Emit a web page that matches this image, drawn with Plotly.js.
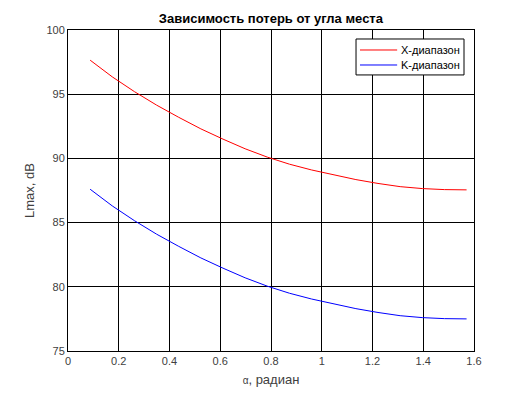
<!DOCTYPE html>
<html>
<head>
<meta charset="utf-8">
<script src="https://cdn.plot.ly/plotly-3.0.1.min.js"></script>
<style>html,body{margin:0;padding:0;background:#fff;}#chart{width:524px;height:393px;}</style>
</head>
<body>
<div id="chart"></div>
<script>
const alphaRad = [0.0873, 0.1745, 0.2618, 0.3491, 0.4363, 0.5236, 0.6109, 0.6981, 0.7854, 0.8727, 0.9599, 1.0472, 1.1345, 1.2217, 1.3090, 1.3963, 1.4835, 1.5708];
const lossX = [97.65, 96.35, 95.2, 94.15, 93.2, 92.3, 91.5, 90.75, 90.1, 89.55, 89.1, 88.7, 88.35, 88.05, 87.8, 87.65, 87.57, 87.55];
const lossK = [87.6, 86.3, 85.15, 84.1, 83.15, 82.25, 81.45, 80.7, 80.05, 79.5, 79.05, 78.65, 78.3, 78.0, 77.75, 77.6, 77.52, 77.5];
const seriesNames = ["X-диапазон", "K-диапазон"];
const seriesColors = ["#ff0000", "#0000ff"];
const xTicks = [0, 0.2, 0.4, 0.6, 0.8, 1, 1.2, 1.4, 1.6];
const xTickText = ["0", "0.2", "0.4", "0.6", "0.8", "1", "1.2", "1.4", "1.6"];
const yTicks = [75, 80, 85, 90, 95, 100];

const font = "Liberation Sans, Arial, sans-serif";
const traces = [
  {x: alphaRad, y: lossX, name: seriesNames[0], mode: "lines", line: {color: seriesColors[0], width: 1}},
  {x: alphaRad, y: lossK, name: seriesNames[1], mode: "lines", line: {color: seriesColors[1], width: 1}}
];
const axisCommon = {
  showgrid: true, gridcolor: "#000", gridwidth: 1,
  showline: true, linecolor: "#000", linewidth: 1, mirror: true,
  zeroline: false, ticks: "", tickfont: {family: font, size: 11, color: "#404040"}
};

// custom MATLAB-style legend box (paper coordinates)
const legBox = {x0: 0.7094, x1: 0.9754, y0: 0.860, y1: 0.972};
const legRows = [0.9377, 0.891];
const shapes = [
  {type: "rect", xref: "paper", yref: "paper", x0: legBox.x0, x1: legBox.x1, y0: legBox.y0, y1: legBox.y1,
   fillcolor: "#fff", line: {color: "#000", width: 1}, layer: "above"}
];
const annotations = [];
seriesNames.forEach((nm, i) => {
  shapes.push({type: "line", xref: "paper", yref: "paper", x0: 0.7192, x1: 0.8107, y0: legRows[i], y1: legRows[i],
    line: {color: seriesColors[i], width: 1}, layer: "above"});
  annotations.push({xref: "paper", yref: "paper", x: 0.8156, y: legRows[i], xanchor: "left", yanchor: "middle",
    text: nm, showarrow: false, font: {family: font, size: 11, color: "#000"}});
});

const layout = {
  width: 524, height: 393,
  margin: {l: 68, r: 50, t: 30, b: 42},
  paper_bgcolor: "#fff", plot_bgcolor: "#fff",
  showlegend: false,
  shapes: shapes, annotations: annotations,
  title: {text: "<b>Зависимость потерь от угла места</b>", font: {family: font, size: 13, color: "#000"}, x: 0.517, xanchor: "center", y: 0.952, yanchor: "middle"},
  xaxis: Object.assign({}, axisCommon, {range: [0, 1.6], tickvals: xTicks, ticktext: xTickText,
    title: {text: "<span style='font-size:10px'>α</span>, радиан", font: {family: font, size: 13, color: "#404040"}, standoff: 8}}),
  yaxis: Object.assign({}, axisCommon, {range: [75, 100], tickvals: yTicks,
    title: {text: "Lmax, dB", font: {family: font, size: 13, color: "#404040"}, standoff: 8}})
};
Plotly.newPlot("chart", traces, layout, {displayModeBar: false, staticPlot: true});
</script>
</body>
</html>
